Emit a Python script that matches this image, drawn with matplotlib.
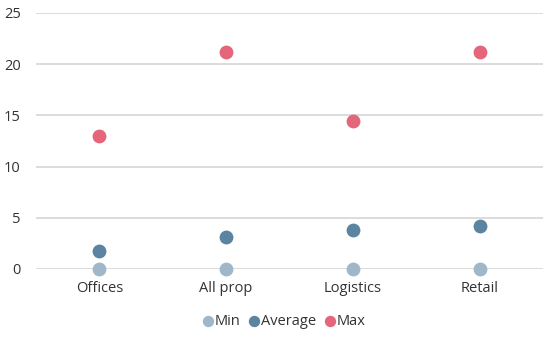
import matplotlib.pyplot as plt

categories = ['Offices', 'All prop', 'Logistics', 'Retail']
min_vals = [0, 0, 0, 0]
avg_vals = [1.75, 3.1, 3.8, 4.2]
max_vals = [13.0, 21.2, 14.45, 21.2]

plt.rcParams['font.family'] = ['Open Sans', 'DejaVu Sans']

fig = plt.figure(figsize=(5.57, 3.42), dpi=100)
ax = fig.add_axes([0.0646, 0.2135, 0.9104, 0.7485])

x = range(len(categories))
ax.scatter(x, min_vals, s=80, color='#9fb7c8', label='Min', zorder=3, clip_on=False)
ax.scatter(x, avg_vals, s=80, color='#5b84a0', label='Average', zorder=3, clip_on=False)
ax.scatter(x, max_vals, s=80, color='#e5657b', label='Max', zorder=3, clip_on=False)

ax.set_xlim(-0.5, 3.5)
ax.set_ylim(0, 25)
ax.set_yticks([0, 5, 10, 15, 20, 25])
ax.set_xticks(list(x))
ax.set_xticklabels(categories)
ax.grid(axis='y', color='#d9d9d9', linewidth=1.3, zorder=0)
ax.set_axisbelow(True)
for s in ax.spines.values():
    s.set_visible(False)
ax.tick_params(length=0, labelsize=10.5, colors='#333333')
ax.tick_params(axis='y', pad=11)
ax.tick_params(axis='x', pad=9)

fig.legend(loc='lower center', bbox_to_anchor=(0.51, 0.0), ncol=3, frameon=False,
           fontsize=10.5, handlelength=0.7, handletextpad=0.1, columnspacing=0.6,
           markerscale=0.8, labelcolor='#333333')

fig.savefig('out.png', dpi=100)
